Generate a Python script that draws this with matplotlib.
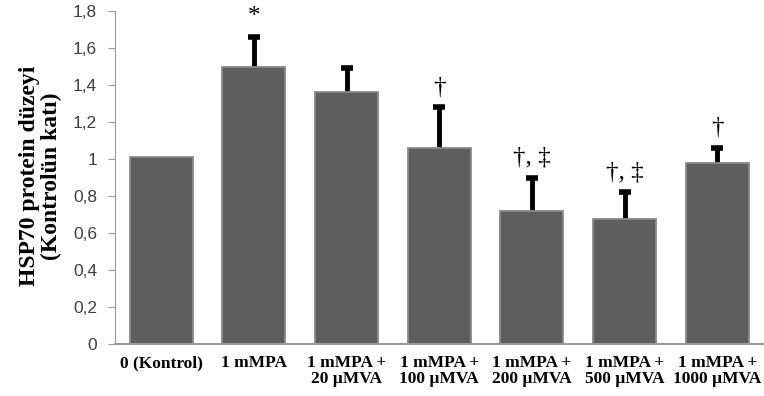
import numpy as np
import matplotlib.pyplot as plt

groups = ['0 (Kontrol)', '1 mMPA', '1 mMPA +\n20 µMVA', '1 mMPA +\n100 µMVA',
          '1 mMPA +\n200 µMVA', '1 mMPA +\n500 µMVA', '1 mMPA +\n1000 µMVA']
values = [1.01, 1.50, 1.36, 1.06, 0.72, 0.675, 0.98]
errors = [0.0, 0.16, 0.13, 0.22, 0.18, 0.145, 0.08]
marks = ['', '*', '', '†', '†, ‡', '†, ‡', '†']
yticks = [0, 0.2, 0.4, 0.6, 0.8, 1, 1.2, 1.4, 1.6, 1.8]
ytick_labels = ['0', '0,2', '0,4', '0,6', '0,8', '1', '1,2', '1,4', '1,6', '1,8']

fig = plt.figure(figsize=(7.64, 3.96), dpi=100)
ax = fig.add_axes([0.1505, 0.131, 0.849, 0.841])

x = np.arange(len(groups))
ax.bar(x, values, width=0.68, color='#5e5e5e', edgecolor='#8a8a8a', linewidth=1.3, zorder=2)
# error bars behind the bars so only the upper half shows
ax.errorbar(x[1:], values[1:], yerr=errors[1:], fmt='none',
            ecolor='black', elinewidth=3.5, capsize=4.5, capthick=4, zorder=1)

for xi, v, e, m in zip(x, values, errors, marks):
    if m:
        ax.text(xi, v + e + 0.05, m, ha='center', va='bottom', fontsize=18,
                family='Liberation Serif', color='black')

ax.set_xlim(-0.5, len(groups) - 0.5)
ax.set_ylim(0, 1.8)
ax.set_yticks(yticks)
ax.set_yticklabels(ytick_labels, fontsize=12.5, color='#404040', family='Liberation Sans')
ax.set_xticks(x)
ax.set_xticklabels(groups, fontsize=12.5, fontweight='bold', family='Liberation Serif',
                   linespacing=1.0)
ax.tick_params(axis='x', length=0, pad=8)
ax.tick_params(axis='y', length=5, color='#999999', pad=8)
for s in ['top', 'right']:
    ax.spines[s].set_visible(False)
ax.spines['left'].set_color('#999999')
ax.spines['bottom'].set_color('#999999')
ax.spines['bottom'].set_linewidth(1.5)

ax.set_ylabel('HSP70 protein düzeyi\n(Kontrolün katı)', fontsize=17, fontweight='bold',
              family='Liberation Serif', linespacing=1.05)
ax.yaxis.set_label_coords(-0.082, 0.505)

fig.savefig('out.png', dpi=100)
